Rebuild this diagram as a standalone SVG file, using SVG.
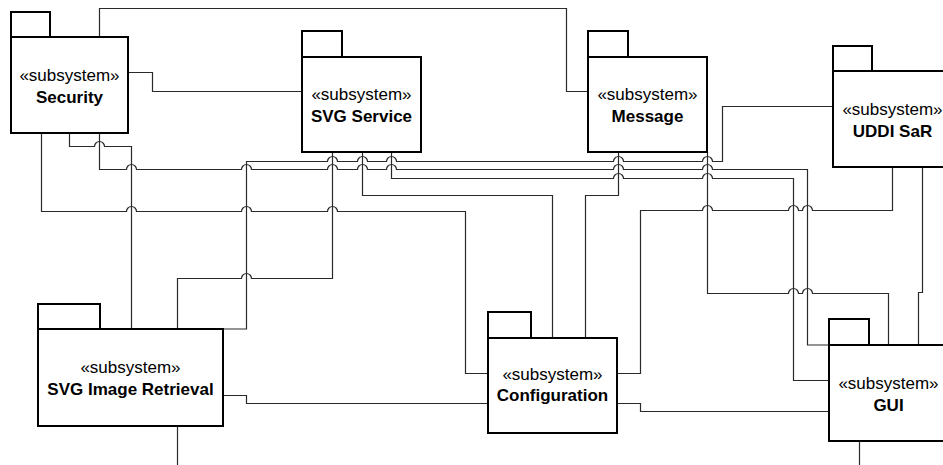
<svg xmlns="http://www.w3.org/2000/svg" width="943" height="465" viewBox="0 0 943 465">
<style>
.bg{fill:#fff}
.c{fill:none;stroke:#2a2a2a;stroke-width:1.2}
.n rect{fill:#fff;stroke:#000;stroke-width:2}
.n text{font-family:"Liberation Sans",Arial,sans-serif;font-size:17px;text-anchor:middle;fill:#000}
.n .nm{font-weight:bold}
</style>
<rect class="bg" x="0" y="0" width="943" height="465"/>
<g id="connectors">
<path class="c" d="M99.5,37 V8.5 H566.5 V91.5 H588"/>
<path class="c" d="M128,72.5 H152.5 V91.5 H302"/>
<path class="c" d="M41.5,133 V211.5 H126.5 A5,5 0 0 1 136.5,211.5 H241.5 A5,5 0 0 1 251.5,211.5 H327.5 A5,5 0 0 1 337.5,211.5 H465.5 V373.5 H488"/>
<path class="c" d="M69.5,133 V146.5 H94.5 A5,5 0 0 1 104.5,146.5 H131.5 V329"/>
<path class="c" d="M99.5,133 V169.5 H126.5 A5,5 0 0 1 136.5,169.5 H241.5 A5,5 0 0 1 251.5,169.5 H327.5 A5,5 0 0 1 337.5,169.5 H357.5 A5,5 0 0 1 367.5,169.5 H386.5 A5,5 0 0 1 396.5,169.5 H613.5 A5,5 0 0 1 623.5,169.5 H702.5 A5,5 0 0 1 712.5,169.5 H807.5 V345 H829"/>
<path class="c" d="M223,329 H246.5 V161.5 H327.5 A5,5 0 0 1 337.5,161.5 H357.5 A5,5 0 0 1 367.5,161.5 H386.5 A5,5 0 0 1 396.5,161.5 H613.5 A5,5 0 0 1 623.5,161.5 H702.5 A5,5 0 0 1 712.5,161.5 H722.5 V106.5 H833"/>
<path class="c" d="M332.5,152 V278.5 H251.5 A5,5 0 0 0 241.5,278.5 H177.5 V329"/>
<path class="c" d="M362.5,152 V195.5 H552.5 V338"/>
<path class="c" d="M391.5,152 V178.5 H613.5 A5,5 0 0 1 623.5,178.5 H702.5 A5,5 0 0 1 712.5,178.5 H793.5 V380.5 H829"/>
<path class="c" d="M618.5,152 V195.5 H585.5 V338"/>
<path class="c" d="M892.5,167 V210.5 H812.5 A5,5 0 0 0 802.5,210.5 H798.5 A5,5 0 0 0 788.5,210.5 H712.5 A5,5 0 0 0 702.5,210.5 H640.5 V373.5 H617"/>
<path class="c" d="M707.5,152 V293.5 H788.5 A5,5 0 0 1 798.5,293.5 H802.5 A5,5 0 0 1 812.5,293.5 H888.5 V345"/>
<path class="c" d="M922.5,167 V292.5 H918.5 V345"/>
<path class="c" d="M223,395.5 H246.5 V403.5 H488"/>
<path class="c" d="M617,403.5 H640.5 V411.5 H829"/>
<path class="c" d="M177.5,426 V465"/>
<path class="c" d="M859.5,441 V465"/>
</g>
<g id="security" class="n">
<rect x="11" y="12" width="39" height="25"/>
<rect x="11" y="37" width="117" height="96"/>
<text x="69.5" y="80.5">«subsystem»</text>
<text class="nm" x="69.5" y="103">Security</text>
</g>
<g id="svg-service" class="n">
<rect x="302" y="31" width="40" height="26"/>
<rect x="302" y="57" width="119" height="95"/>
<text x="361.5" y="100">«subsystem»</text>
<text class="nm" x="361.5" y="122">SVG Service</text>
</g>
<g id="message" class="n">
<rect x="588" y="31" width="40" height="26"/>
<rect x="588" y="57" width="119" height="95"/>
<text x="647.5" y="100">«subsystem»</text>
<text class="nm" x="647.5" y="122">Message</text>
</g>
<g id="uddi-sar" class="n">
<rect x="833" y="46" width="39" height="25"/>
<rect x="833" y="71" width="119" height="96"/>
<text x="892.5" y="114.5">«subsystem»</text>
<text class="nm" x="892.5" y="136.5">UDDI SaR</text>
</g>
<g id="svg-image-retrieval" class="n">
<rect x="38" y="304" width="62" height="25"/>
<rect x="38" y="329" width="185" height="97"/>
<text x="130.5" y="373">«subsystem»</text>
<text class="nm" x="130.5" y="395">SVG Image Retrieval</text>
</g>
<g id="configuration" class="n">
<rect x="488" y="312" width="43" height="26"/>
<rect x="488" y="338" width="129" height="95"/>
<text x="552.5" y="379.5">«subsystem»</text>
<text class="nm" x="552.5" y="401">Configuration</text>
</g>
<g id="gui" class="n">
<rect x="829" y="319" width="40" height="26"/>
<rect x="829" y="345" width="119" height="96"/>
<text x="888.5" y="388.5">«subsystem»</text>
<text class="nm" x="888.5" y="410.5">GUI</text>
</g>
</svg>
